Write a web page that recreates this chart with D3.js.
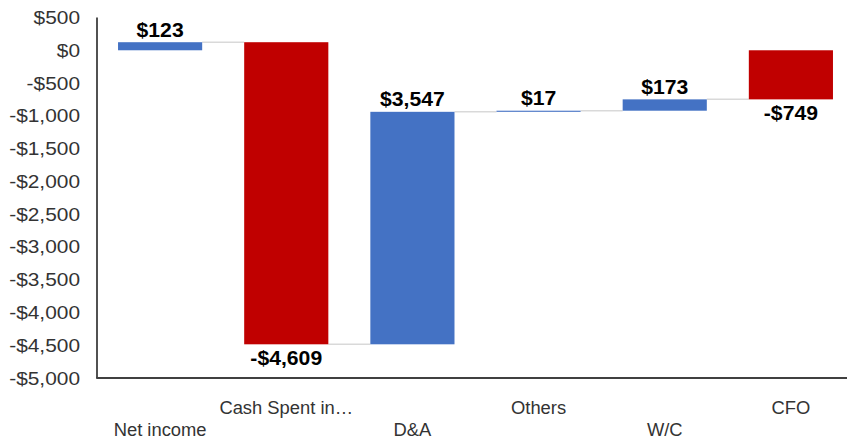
<!DOCTYPE html>
<html>
<head>
<meta charset="utf-8">
<script src="https://cdn.jsdelivr.net/npm/d3@7"></script>
<style>
  html, body { margin: 0; padding: 0; background: #fff; }
  svg { display: block; }
  text { font-family: "Liberation Sans", Arial, sans-serif; }
</style>
</head>
<body>
<svg id="chart" width="847" height="441"></svg>
<script>
// Cash flow bridge: net income to cash from operations
const categories = ["Net income", "Cash Spent in\u2026", "D&A", "Others", "W/C", "CFO"];
const values = [123, -4609, 3547, 17, 173, -749];
const isTotal = [false, false, false, false, false, true];
const yTicks = [500, 0, -500, -1000, -1500, -2000, -2500, -3000, -3500, -4000, -4500, -5000];

const BLUE = "#4472C4", RED = "#C00000", CONNECT = "#D9D9D9";

const svg = d3.select("#chart");
const plot = { left: 97, right: 854, top: 17.5, bottom: 378 };

const x = d3.scaleBand().domain(categories).range([plot.left, plot.right])
  .paddingInner(0.333).paddingOuter(0.1667);
const y = d3.scaleLinear().domain([-5000, 500]).range([plot.bottom, plot.top]);

const money = v => (v < 0 ? "-$" : "$") + d3.format(",")(Math.abs(v));

// running totals for the floating bars
let running = 0;
const bars = categories.map((c, i) => {
  let start, end;
  if (isTotal[i]) { start = 0; end = values[i]; }
  else { start = running; end = running + values[i]; }
  running = end;
  return { cat: c, value: values[i], start, end, total: isTotal[i] };
});

// text with a slight horizontal stretch
function stretchedText(g, tx, ty, str, sx, attrs) {
  const t = g.append("text")
    .attr("transform", `translate(${tx},${ty}) scale(${sx},1)`)
    .text(str);
  Object.entries(attrs).forEach(([k, v]) => t.attr(k, v));
  return t;
}

// connectors between consecutive bars
const conn = svg.append("g");
for (let i = 0; i < bars.length - 1; i++) {
  const level = bars[i].end;
  conn.append("line")
    .attr("x1", x(bars[i].cat) + x.bandwidth())
    .attr("x2", x(bars[i + 1].cat))
    .attr("y1", y(level)).attr("y2", y(level))
    .attr("stroke", CONNECT).attr("stroke-width", 1.5);
}

// bars
svg.append("g").selectAll("rect").data(bars).join("rect")
  .attr("x", d => x(d.cat))
  .attr("width", x.bandwidth())
  .attr("y", d => y(Math.max(d.start, d.end)))
  .attr("height", d => Math.abs(y(d.start) - y(d.end)))
  .attr("fill", d => d.value < 0 ? RED : BLUE);

// value labels
const lab = svg.append("g");
bars.forEach(d => {
  const cx = x(d.cat) + x.bandwidth() / 2;
  const ty = d.value >= 0 ? y(Math.max(d.start, d.end)) - 5.5
                          : y(Math.min(d.start, d.end)) + 20.5;
  stretchedText(lab, cx, ty, money(d.value), 1.06, {
    "text-anchor": "middle", "font-size": "20px", "font-weight": "bold", "fill": "#000"
  });
});

// y axis labels
const yg = svg.append("g");
yTicks.forEach(v => {
  stretchedText(yg, 80, y(v) + 6.5, money(v), 1.16, {
    "text-anchor": "end", "font-size": "18px", "fill": "#333"
  });
});

// category labels, alternating rows
const xg = svg.append("g");
categories.forEach((c, i) => {
  const cx = x(c) + x.bandwidth() / 2;
  const ty = i % 2 === 1 ? 414 : 436;
  stretchedText(xg, cx, ty, c, 1.05, {
    "text-anchor": "middle", "font-size": "17.5px", "fill": "#333"
  });
});

// axis lines
svg.append("line")
  .attr("x1", plot.left).attr("x2", plot.left)
  .attr("y1", plot.top).attr("y2", plot.bottom)
  .attr("stroke", "#262626").attr("stroke-width", 1.6);
svg.append("line")
  .attr("x1", plot.left - 0.8).attr("x2", 847)
  .attr("y1", plot.bottom).attr("y2", plot.bottom)
  .attr("stroke", "#404040").attr("stroke-width", 2);
</script>
</body>
</html>
